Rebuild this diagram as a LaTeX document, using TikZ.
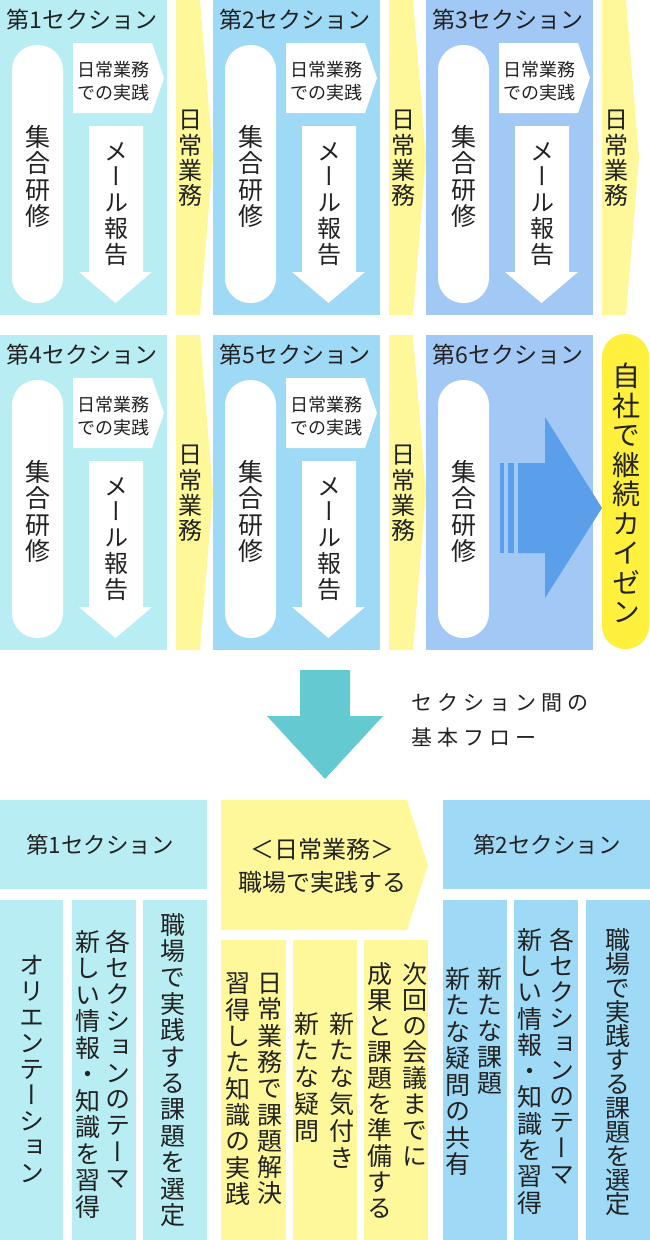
\documentclass[tikz,border=0pt]{standalone}
\usepackage{fontspec}
\setmainfont{Noto Sans CJK JP}
\newfontfamily\vertfont[RawFeature=+vert]{Noto Sans CJK JP}
\newfontfamily\spfont[LetterSpace=24]{Noto Sans CJK JP}
\definecolor{tc}{HTML}{222222}
\definecolor{cA}{HTML}{B7EDF3}
\definecolor{cB}{HTML}{9ED9F5}
\definecolor{cC}{HTML}{A2C8F5}
\definecolor{ypale}{HTML}{FFF89A}
\definecolor{ybright}{HTML}{FFF03D}
\definecolor{barrow}{HTML}{5B9EEA}
\definecolor{tealc}{HTML}{64C9D0}
\makeatletter
\newcommand\vtxt[2][1em]{\vbox{\vertfont\baselineskip=#1\relax\lineskiplimit=-100pt\lineskip=0pt\vtx@loop#2\vtx@end}}
\def\vtx@end{\vtx@end}
\def\vtx@loop#1{\ifx#1\vtx@end\else\hbox to 1em{\hss#1\hss}\expandafter\vtx@loop\fi}
\makeatother
\tikzset{
  lbl/.style={text=tc, inner sep=0pt},
  ttl/.style={lbl, font=\fontsize{23}{27}\selectfont},
  hdr/.style={lbl, font=\fontsize{22.5}{27}\selectfont},
  small/.style={lbl, font=\fontsize{18}{23}\selectfont, align=center},
  vlbl/.style={lbl, anchor=north, font=\fontsize{25}{26}\selectfont},
  vmid/.style={lbl, anchor=north, font=\fontsize{24}{26}\selectfont},
}
% section base: X, Y, colour, number
\newcommand\secbase[4]{%
  \fill[#3] (#1,#2) rectangle (#1+167,#2+315);
  \node[ttl] (title#4) at (#1+82,#2+20) {第#4セクション};
  \fill[white, rounded corners=25pt] (#1+12,#2+45) rectangle (#1+63,#2+303);
  \node[vlbl] (train#4) at (#1+38,#2+125) {\vtxt[26.5pt]{集合研修}};
}
% practice arrow and mail arrow: X, Y, number
\newcommand\secwork[3]{%
  \fill[white] (#1+73,#2+43) -- (#1+152,#2+43) -- (#1+164,#2+78) -- (#1+152,#2+113) -- (#1+73,#2+113) -- cycle;
  \node[small] (practice#3) at (#1+113,#2+81) {日常業務\\での実践};
  \fill[white] (#1+89,#2+126) -- (#1+143,#2+126) -- (#1+143,#2+272) -- (#1+152,#2+272) -- (#1+115.5,#2+303) -- (#1+79,#2+272) -- (#1+89,#2+272) -- cycle;
  \node[vmid] (mail#3) at (#1+116,#2+142) {\vtxt[25.8pt]{メール報告}};
}
% daily-work chevron: X, Y, number
\newcommand\daily[3]{%
  \fill[ypale] (#1+176,#2) -- (#1+200,#2) -- (#1+213,#2+157.5) -- (#1+200,#2+315) -- (#1+176,#2+315) -- cycle;
  \node[vmid] (daily#3) at (#1+190,#2+110) {\vtxt[25.3pt]{日常業務}};
}
\begin{document}
\begin{tikzpicture}[x=1pt,y=-1pt]
\useasboundingbox (0,0) rectangle (650,1240);
% ---- row 1
\secbase{0}{0}{cA}{1}
\secwork{0}{0}{1}
\daily{0}{0}{1}
\secbase{213}{0}{cB}{2}
\secwork{213}{0}{2}
\daily{213}{0}{2}
\secbase{426}{0}{cC}{3}
\secwork{426}{0}{3}
\daily{426}{0}{3}
% ---- row 2
\secbase{0}{335}{cA}{4}
\secwork{0}{335}{4}
\daily{0}{335}{4}
\secbase{213}{335}{cB}{5}
\secwork{213}{335}{5}
\daily{213}{335}{5}
\secbase{426}{335}{cC}{6}
\fill[barrow] (500,463) rectangle (504,553);
\fill[barrow] (508,463) rectangle (514,553);
\fill[barrow] (518,463) -- (545,463) -- (545,417) -- (602,508) -- (545,598) -- (545,553) -- (518,553) -- cycle;
\fill[ybright, rounded corners=23pt] (602,334) rectangle (649,649);
\node[lbl, anchor=north, font=\fontsize{28}{30}\selectfont] (kaizen) at (626,363) {\vtxt[29.5pt]{自社で継続カイゼン}};
% ---- middle arrow
\fill[tealc] (300,670) -- (350,670) -- (350,716) -- (383,716) -- (325,779) -- (267,716) -- (300,716) -- cycle;
\node[lbl, anchor=west, font=\fontsize{21}{24}\spfont] (flow1) at (411,703) {セクション間の};
\node[lbl, anchor=west, font=\fontsize{21}{24}\spfont] (flow2) at (411,738) {基本フロー};
% ---- bottom: section 1
\fill[cA] (0,800) rectangle (207,889);
\node[hdr] (bsec1) at (100,845) {第1セクション};
\fill[cA] (0,900) rectangle (63,1240);
\fill[cA] (72,900) rectangle (136,1240);
\fill[cA] (143,900) rectangle (207,1240);
\node[vlbl] (b1a) at (32,955) {\vtxt[26pt]{オリエンテーション}};
\node[vlbl] (b1b) at (118,930) {\vtxt[26.2pt]{各セクションのテーマ}};
\node[vlbl] (b1c) at (88,930) {\vtxt[26.5pt]{新しい情報・知識を習得}};
\node[vlbl] (b1d) at (173,913) {\vtxt[26.4pt]{職場で実践する課題を選定}};
% ---- bottom: daily work
\fill[ypale] (221,800) -- (407,800) -- (428,865) -- (407,930) -- (221,930) -- cycle;
\node[lbl, font=\fontsize{24}{33}\selectfont, align=center] (bdaily) at (322,866) {＜日常業務＞\\職場で実践する};
\fill[ypale] (221,940) rectangle (286,1240);
\fill[ypale] (293,940) rectangle (357,1240);
\fill[ypale] (364,940) rectangle (428,1240);
\node[vlbl] (bda) at (270,973) {\vtxt[26.3pt]{日常業務で課題解決}};
\node[vlbl] (bdb) at (238,973) {\vtxt[26.3pt]{習得した知識の実践}};
\node[vlbl] (bdc) at (342,1012) {\vtxt[26.8pt]{新たな気付き}};
\node[vlbl] (bdd) at (307,1012) {\vtxt[26.8pt]{新たな疑問}};
\node[vlbl] (bde) at (415,962) {\vtxt[26pt]{次回の会議までに}};
\node[vlbl] (bdf) at (380,962) {\vtxt[26pt]{成果と課題を準備する}};
% ---- bottom: section 2
\fill[cB] (443,800) rectangle (650,889);
\node[hdr] (bsec2) at (547,845) {第2セクション};
\fill[cB] (443,900) rectangle (507,1240);
\fill[cB] (514,900) rectangle (578,1240);
\fill[cB] (586,900) rectangle (650,1240);
\node[vlbl] (b2a) at (490,967) {\vtxt[26pt]{新たな課題}};
\node[vlbl] (b2b) at (458,967) {\vtxt[26.5pt]{新たな疑問の共有}};
\node[vlbl] (b2c) at (562,928) {\vtxt[26pt]{各セクションのテーマ}};
\node[vlbl] (b2d) at (530,928) {\vtxt[26.3pt]{新しい情報・知識を習得}};
\node[vlbl] (b2e) at (618,928) {\vtxt[24pt]{職場で実践する課題を選定}};
\end{tikzpicture}
\end{document}
